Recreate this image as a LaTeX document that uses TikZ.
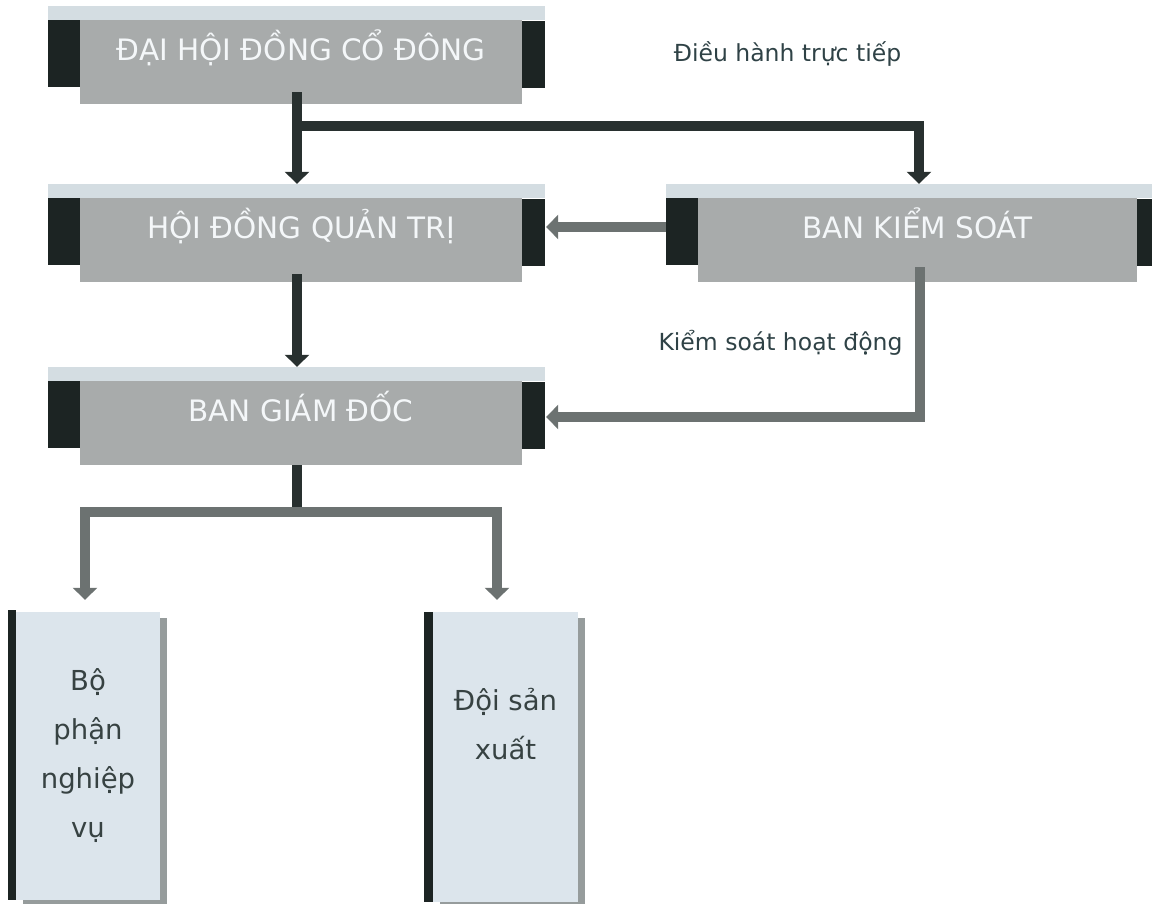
\documentclass[tikz,border=0pt]{standalone}
\usepackage{fontspec}
\setmainfont{DejaVu Sans}
\usetikzlibrary{arrows.meta}
\definecolor{boxgrey}{RGB}{168,171,171}
\definecolor{stripblue}{RGB}{212,221,226}
\definecolor{tabdark}{RGB}{28,36,35}
\definecolor{paleblue}{RGB}{220,229,236}
\definecolor{shadowgrey}{RGB}{150,156,156}
\definecolor{linkdark}{RGB}{40,48,47}
\definecolor{linkgrey}{RGB}{108,114,113}
\definecolor{boxtext}{RGB}{244,247,249}
\definecolor{notetext}{RGB}{47,66,70}
\definecolor{leaftext}{RGB}{55,66,66}
\begin{document}
\begin{tikzpicture}[x=1pt,y=-1pt,line join=miter,>={Triangle[width=24pt,length=12pt]}]
  \tikzset{unit style/.style={fill=boxgrey, minimum width=442pt, minimum height=84pt, inner sep=0pt,
      text=boxtext, font=\fontsize{29.5}{32}\selectfont, text height=22pt, text depth=25.5pt},
    leaf text/.style={inner sep=0pt, align=center, text=leaftext, font=\fontsize{27.5}{49}\selectfont},
    leaf style/.style={leaf text, fill=paleblue,
      preaction={fill=shadowgrey, transform canvas={xshift=7pt,yshift=-6pt}}},
    note style/.style={anchor=base, text=notetext, font=\fontsize{23.5}{26}\selectfont},
    darklink/.style={draw=linkdark, line width=10pt},
    greylink/.style={draw=linkgrey, line width=10.5pt}}
  \useasboundingbox (0,0) rectangle (1152,904);
  \clip (0,0) rectangle (1152,904);
  % boxes
  \node[unit style] (dhd) at (301,62) {ĐẠI HỘI ĐỒNG CỔ ĐÔNG};
  \node[unit style] (hdqt) at (301,240) {HỘI ĐỒNG QUẢN TRỊ};
  \node[unit style] (bgd) at (301,423) {BAN GIÁM ĐỐC};
  \node[unit style, minimum width=439pt] (bks) at (917.5,240) {BAN KIỂM SOÁT};
  \foreach \n in {dhd,hdqt,bgd,bks} {
    \fill[stripblue] ([xshift=-32pt]\n.north west) rectangle ([xshift=23pt,yshift=14pt]\n.north east);
    \fill[tabdark] ([xshift=-32pt]\n.north west) rectangle ([yshift=-67pt]\n.north west);
    \fill[tabdark] ([yshift=-1pt]\n.north east) rectangle ([xshift=23pt,yshift=-68pt]\n.north east);
  }
  \node[leaf style, minimum width=144pt, minimum height=288pt] (bpnv) at (88,756) {Bộ\\phận\\nghiệp\\vụ};
  \node[leaf style, minimum width=145pt, minimum height=290pt] (dsx) at (505.5,757) {};
  \node[leaf text] (dsxtext) at ([yshift=33pt]dsx.center) {Đội sản\\xuất};
  \fill[tabdark] ([xshift=-8pt,yshift=2pt]bpnv.north west) rectangle (bpnv.south west);
  \fill[tabdark] ([xshift=-9pt]dsx.north west) rectangle (dsx.south west);
  % notes
  \node[note style] (ctrl) at (787.5,62) {Điều hành trực tiếp};
  \node[note style] (audit) at (780.5,350) {Kiểm soát hoạt động};
  % links
  \draw[darklink,->] ([xshift=-4pt,yshift=12pt]dhd.south) -- ([xshift=-4pt,yshift=14pt]hdqt.north);
  \draw[darklink,->] ([xshift=-4pt,yshift=-22pt]dhd.south) -| ([xshift=1.5pt,yshift=14pt]bks.north);
  \draw[greylink,->] ([xshift=-32pt,yshift=13pt]bks.west) -- ([xshift=24pt,yshift=13pt]hdqt.east);
  \draw[darklink,->] ([xshift=-4pt,yshift=8pt]hdqt.south) -- ([xshift=-4pt,yshift=14pt]bgd.north);
  \draw[greylink,->] ([xshift=2.5pt,yshift=15pt]bks.south) |- ([xshift=24pt,yshift=6pt]bgd.east);
  \draw[darklink] ([xshift=-4pt]bgd.south) -- ++(0,45) coordinate (split);
  \draw[greylink,->] ([yshift=-2pt]split) -| ([xshift=-3pt,yshift=12pt]bpnv.north);
  \draw[greylink,->] ([yshift=-2pt]split) -| ([xshift=-8.5pt,yshift=12pt]dsx.north);
\end{tikzpicture}
\end{document}
